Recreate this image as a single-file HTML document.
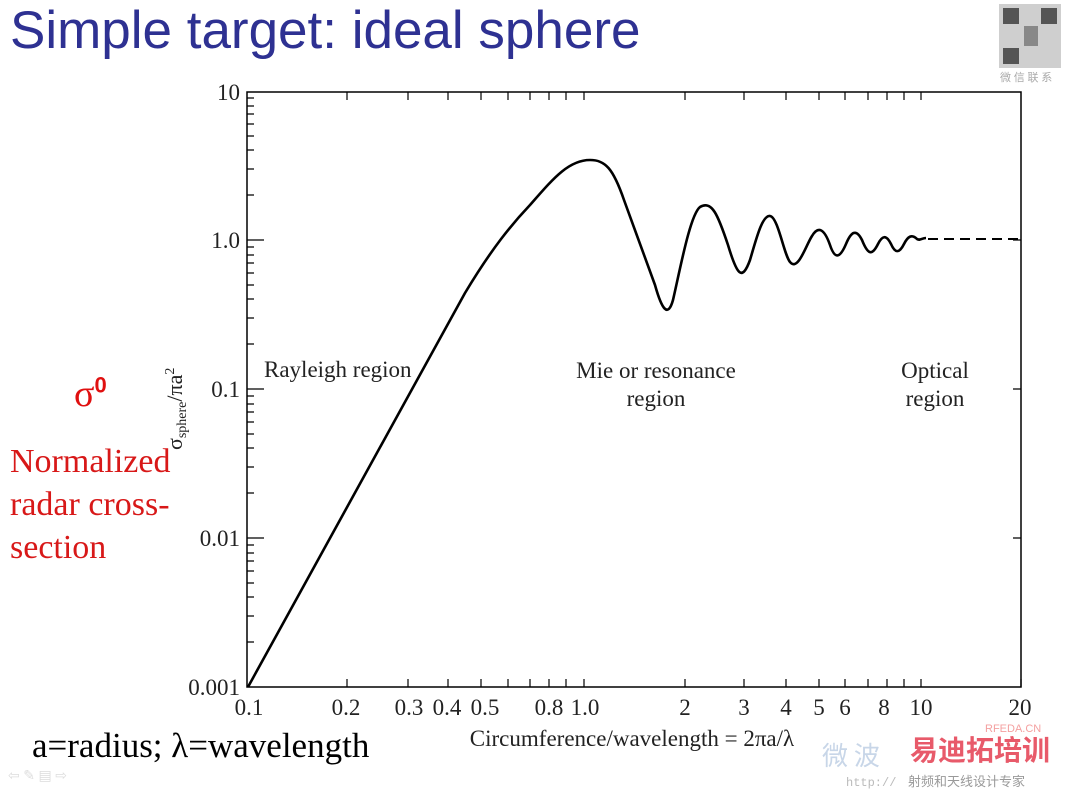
<!DOCTYPE html>
<html><head><meta charset="utf-8"><style>
body{margin:0;width:1067px;height:795px;background:#fff;overflow:hidden;position:relative;font-family:"Liberation Serif",serif}
.t{position:absolute;white-space:nowrap}
</style></head><body>
<div class="t" style="left:10px;top:0px;font-family:'Liberation Sans',sans-serif;font-size:53px;color:#2e3192">Simple target: ideal sphere</div>
<div class="t" style="left:74px;top:372px;font-size:38px;color:#e01010">σ<sup style="font-family:'Liberation Sans',sans-serif;font-weight:bold;font-size:22px">0</sup></div>
<div class="t" style="left:10px;top:440px;font-size:34px;line-height:43px;color:#d81818">Normalized<br>radar cross-<br>section</div>
<div class="t" style="left:32px;top:726px;font-size:35px;color:#000">a=radius; λ=wavelength</div>
<svg width="1067" height="795" style="position:absolute;left:0;top:0" font-family="Liberation Serif,serif">
<rect x="999" y="4" width="62" height="64" fill="#cfcfcf"/>
<rect x="1003" y="8" width="16" height="16" fill="#555"/><rect x="1041" y="8" width="16" height="16" fill="#555"/><rect x="1003" y="48" width="16" height="16" fill="#555"/>
<rect x="1024" y="26" width="14" height="20" fill="#888"/>
<text x="1000" y="81" font-size="11" fill="#aaa">微 信 联 系</text>
<rect x="247" y="92" width="774" height="595" fill="none" stroke="#000" stroke-width="1.5"/>
<g stroke="#000" stroke-width="1.2">
<path d="M347 687v-8M408 687v-8M448 687v-8M481 687v-8M508 687v-8M530 687v-8M549 687v-8M566 687v-8M584 687v-8M685 687v-8M744 687v-8M786 687v-8M819 687v-8M845 687v-8M868 687v-8M887 687v-8M904 687v-8M921 687v-8M1021 687v-8"/>
<path d="M247 240h17M247 389h17M247 538h17M1021 240h-8M1021 389h-8M1021 538h-8"/>
<path d="M247 642h7M247 616h7M247 597h7M247 583h7M247 571h7M247 561h7M247 553h7M247 545h7
M247 493h7M247 467h7M247 448h7M247 434h7M247 422h7M247 412h7M247 404h7M247 396h7
M247 344h7M247 318h7M247 299h7M247 285h7M247 273h7M247 263h7M247 255h7M247 247h7
M247 195h7M247 169h7M247 150h7M247 136h7M247 124h7M247 114h7M247 106h7M247 98h7"/>
<path d="M347 92v8M408 92v8M448 92v8M481 92v8M508 92v8M530 92v8M549 92v8M566 92v8M584 92v8M685 92v8M744 92v8M786 92v8M819 92v8M845 92v8M868 92v8M887 92v8M904 92v8M921 92v8"/>
</g>
<g font-size="23" fill="#222" text-anchor="end">
<text x="240" y="100">10</text><text x="240" y="248">1.0</text><text x="240" y="397">0.1</text><text x="240" y="546">0.01</text><text x="240" y="695">0.001</text>
</g>
<g font-size="23" fill="#222" text-anchor="middle">
<text x="249" y="715">0.1</text><text x="346" y="715">0.2</text><text x="409" y="715">0.3</text><text x="447" y="715">0.4</text><text x="485" y="715">0.5</text><text x="549" y="715">0.8</text><text x="585" y="715">1.0</text><text x="685" y="715">2</text><text x="744" y="715">3</text><text x="786" y="715">4</text><text x="819" y="715">5</text><text x="845" y="715">6</text><text x="884" y="715">8</text><text x="921" y="715">10</text><text x="1020" y="715">20</text>
<text x="632" y="746">Circumference/wavelength = 2πa/λ</text>
<text x="656" y="378">Mie or resonance</text><text x="656" y="406">region</text>
<text x="935" y="378">Optical</text><text x="935" y="406">region</text>
</g>
<text x="264" y="377" font-size="23" fill="#222">Rayleigh region</text>
<text transform="translate(182,450) rotate(-90)" font-size="22" fill="#222">σ<tspan font-size="14" dy="4">sphere</tspan><tspan dy="-4">/πa</tspan><tspan font-size="14" dy="-8">2</tspan></text>
<path fill="none" stroke="#000" stroke-width="2.6" stroke-linejoin="round" d="M248 687 L465 293 C492 248 512 224 530 205 C552 180 568 160 590 160 C605 160 613 168 624 200 L655 285 C662 310 668 318 673 300 C680 270 690 215 700 207 C712 200 718 215 728 245 C737 275 742 282 750 260 C756 240 762 215 770 216 C778 217 784 255 790 262 C798 272 806 245 812 236 C818 226 824 228 830 245 C835 260 840 258 846 244 C851 232 856 228 862 240 C868 255 872 256 878 244 C882 236 886 234 891 244 C895 253 899 254 904 244 C908 236 912 234 917 239 C920 241 922 238 926 238"/>
<path d="M928 239H1021" stroke="#000" stroke-width="2" stroke-dasharray="10,6"/>
<text x="985" y="732" font-family="Liberation Sans,sans-serif" font-size="11" fill="#f4a0a0">RFEDA.CN</text>
<text x="822" y="765" font-family="Noto Sans CJK SC,sans-serif" font-size="26" fill="#c8d6e8">微 波</text>
<text x="910" y="760" font-family="Noto Sans CJK SC,sans-serif" font-size="28" font-weight="bold" fill="#e85a6a">易迪拓培训</text>
<text x="846" y="786" font-family="Liberation Mono,monospace" font-size="12" fill="#bbb">http://</text>
<text x="908" y="786" font-family="Noto Sans CJK SC,sans-serif" font-size="13" fill="#999">射频和天线设计专家</text>
<text x="8" y="780" font-size="14" fill="#ddd">⇦ ✎ ▤ ⇨</text>
</svg>
</body></html>
